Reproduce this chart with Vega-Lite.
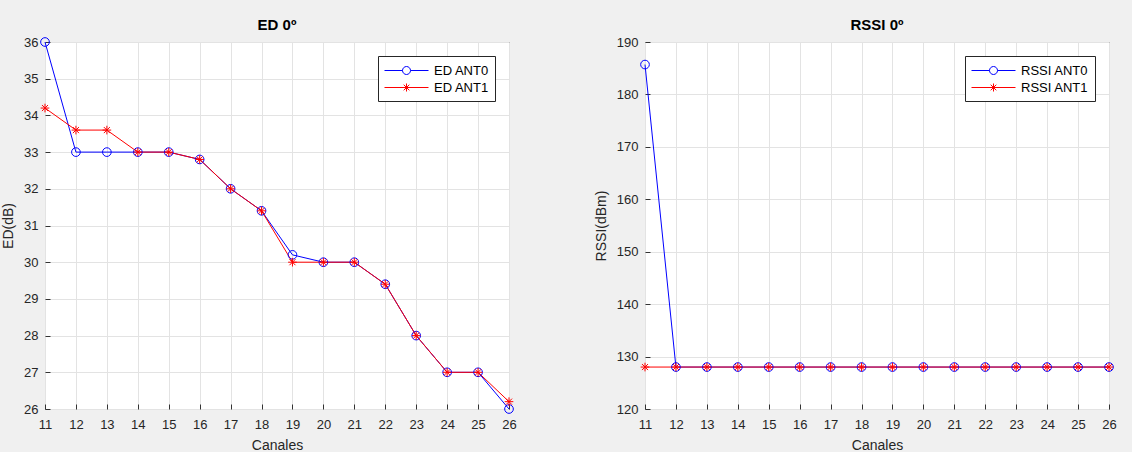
{
  "$schema": "https://vega.github.io/schema/vega-lite/v6.json",
  "background": "#f0f0f0",
  "padding": {"left": 1, "top": 17, "right": 22, "bottom": 5},
  "spacing": 76,
  "resolve": {"scale": {"color": "independent", "y": "independent", "x": "independent"}, "legend": {"color": "independent"}},
  "config": {
    "font": "Liberation Sans",
    "view": {"fill": "white", "stroke": "#333333", "strokeWidth": 1},
    "axis": {"gridColor": "#e3e3e3", "gridOpacity": 1, "domain": false, "tickColor": "#333333", "tickSize": -5, "labelFontSize": 13, "labelColor": "#262626", "titleFontSize": 14, "titleFontWeight": "normal", "titleColor": "#262626", "labelFont": "Liberation Sans", "titleFont": "Liberation Sans", "labelFlush": false},
    "axisX": {"labelPadding": 14, "titlePadding": 7},
    "axisY": {"labelPadding": 12, "titlePadding": 8},
    "title": {"fontSize": 15, "fontWeight": "bold", "color": "#000000", "offset": 3, "font": "Liberation Sans"},
    "legend": {"labelFontSize": 13, "labelColor": "#000000", "labelFont": "Liberation Sans", "strokeColor": "#262626", "fillColor": "#ffffff", "padding": 6, "rowPadding": 1, "symbolSize": 256, "symbolStrokeWidth": 1, "symbolOffset": 14, "labelOffset": 19, "orient": "top-right", "offset": 14, "title": null}
  },
  "hconcat": [
    {
      "title": "ED 0º",
      "width": 464,
      "height": 367,
      "data": {"values": [
        {"canal": 11, "serie": "ED ANT0", "valor": 36},
        {"canal": 12, "serie": "ED ANT0", "valor": 33},
        {"canal": 13, "serie": "ED ANT0", "valor": 33},
        {"canal": 14, "serie": "ED ANT0", "valor": 33},
        {"canal": 15, "serie": "ED ANT0", "valor": 33},
        {"canal": 16, "serie": "ED ANT0", "valor": 32.8},
        {"canal": 17, "serie": "ED ANT0", "valor": 32},
        {"canal": 18, "serie": "ED ANT0", "valor": 31.4},
        {"canal": 19, "serie": "ED ANT0", "valor": 30.2},
        {"canal": 20, "serie": "ED ANT0", "valor": 30},
        {"canal": 21, "serie": "ED ANT0", "valor": 30},
        {"canal": 22, "serie": "ED ANT0", "valor": 29.4},
        {"canal": 23, "serie": "ED ANT0", "valor": 28},
        {"canal": 24, "serie": "ED ANT0", "valor": 27},
        {"canal": 25, "serie": "ED ANT0", "valor": 27},
        {"canal": 26, "serie": "ED ANT0", "valor": 26},
        {"canal": 11, "serie": "ED ANT1", "valor": 34.2},
        {"canal": 12, "serie": "ED ANT1", "valor": 33.6},
        {"canal": 13, "serie": "ED ANT1", "valor": 33.6},
        {"canal": 14, "serie": "ED ANT1", "valor": 33},
        {"canal": 15, "serie": "ED ANT1", "valor": 33},
        {"canal": 16, "serie": "ED ANT1", "valor": 32.8},
        {"canal": 17, "serie": "ED ANT1", "valor": 32},
        {"canal": 18, "serie": "ED ANT1", "valor": 31.4},
        {"canal": 19, "serie": "ED ANT1", "valor": 30},
        {"canal": 20, "serie": "ED ANT1", "valor": 30},
        {"canal": 21, "serie": "ED ANT1", "valor": 30},
        {"canal": 22, "serie": "ED ANT1", "valor": 29.4},
        {"canal": 23, "serie": "ED ANT1", "valor": 28},
        {"canal": 24, "serie": "ED ANT1", "valor": 27},
        {"canal": 25, "serie": "ED ANT1", "valor": 27},
        {"canal": 26, "serie": "ED ANT1", "valor": 26.2}
      ]},
      "encoding": {
        "x": {"field": "canal", "type": "quantitative", "scale": {"domain": [11, 26], "nice": false, "zero": false}, "axis": {"title": "Canales", "values": [11,12,13,14,15,16,17,18,19,20,21,22,23,24,25,26], "format": "d"}},
        "y": {"field": "valor", "type": "quantitative", "scale": {"domain": [26, 36], "nice": false, "zero": false}, "axis": {"title": "ED(dB)", "values": [26,27,28,29,30,31,32,33,34,35,36], "format": "d"}},
        "color": {"field": "serie", "type": "nominal", "scale": {"domain": ["ED ANT0", "ED ANT1"], "range": ["#0000ff", "#ff0000"]},
          "legend": {"encode": {"symbols": {"update": {"shape": {"signal": "datum.value === 'ED ANT0' ? 'M-2.75,0H-0.5M0.5,0H2.75M0.5,0A0.5,0.5 0 1 1 -0.5,0A0.5,0.5 0 1 1 0.5,0' : 'M-2.75,0H2.75M0,-0.5V0.5M-0.35,-0.35L0.35,0.35M-0.35,0.35L0.35,-0.35'"}, "fill": {"value": "transparent"}}}}}}
      },
      "layer": [
        {"mark": {"type": "line", "strokeWidth": 1}},
        {"transform": [{"filter": "datum.serie === 'ED ANT0'"}],
          "mark": {"type": "point", "filled": false, "strokeWidth": 1, "size": 75, "opacity": 1, "shape": "circle"}},
        {"transform": [{"filter": "datum.serie === 'ED ANT1'"}],
          "mark": {"type": "point", "filled": false, "strokeWidth": 1, "size": 75, "opacity": 1, "shape": "M0,-1V1M-1,0H1M-0.7,-0.7L0.7,0.7M-0.7,0.7L0.7,-0.7"}}
      ]
    },
    {
      "title": "RSSI 0º",
      "width": 464,
      "height": 367,
      "data": {"values": [
        {"canal": 11, "serie": "RSSI ANT0", "valor": 185.7},
        {"canal": 12, "serie": "RSSI ANT0", "valor": 128},
        {"canal": 13, "serie": "RSSI ANT0", "valor": 128},
        {"canal": 14, "serie": "RSSI ANT0", "valor": 128},
        {"canal": 15, "serie": "RSSI ANT0", "valor": 128},
        {"canal": 16, "serie": "RSSI ANT0", "valor": 128},
        {"canal": 17, "serie": "RSSI ANT0", "valor": 128},
        {"canal": 18, "serie": "RSSI ANT0", "valor": 128},
        {"canal": 19, "serie": "RSSI ANT0", "valor": 128},
        {"canal": 20, "serie": "RSSI ANT0", "valor": 128},
        {"canal": 21, "serie": "RSSI ANT0", "valor": 128},
        {"canal": 22, "serie": "RSSI ANT0", "valor": 128},
        {"canal": 23, "serie": "RSSI ANT0", "valor": 128},
        {"canal": 24, "serie": "RSSI ANT0", "valor": 128},
        {"canal": 25, "serie": "RSSI ANT0", "valor": 128},
        {"canal": 26, "serie": "RSSI ANT0", "valor": 128},
        {"canal": 11, "serie": "RSSI ANT1", "valor": 128},
        {"canal": 12, "serie": "RSSI ANT1", "valor": 128},
        {"canal": 13, "serie": "RSSI ANT1", "valor": 128},
        {"canal": 14, "serie": "RSSI ANT1", "valor": 128},
        {"canal": 15, "serie": "RSSI ANT1", "valor": 128},
        {"canal": 16, "serie": "RSSI ANT1", "valor": 128},
        {"canal": 17, "serie": "RSSI ANT1", "valor": 128},
        {"canal": 18, "serie": "RSSI ANT1", "valor": 128},
        {"canal": 19, "serie": "RSSI ANT1", "valor": 128},
        {"canal": 20, "serie": "RSSI ANT1", "valor": 128},
        {"canal": 21, "serie": "RSSI ANT1", "valor": 128},
        {"canal": 22, "serie": "RSSI ANT1", "valor": 128},
        {"canal": 23, "serie": "RSSI ANT1", "valor": 128},
        {"canal": 24, "serie": "RSSI ANT1", "valor": 128},
        {"canal": 25, "serie": "RSSI ANT1", "valor": 128},
        {"canal": 26, "serie": "RSSI ANT1", "valor": 128}
      ]},
      "encoding": {
        "x": {"field": "canal", "type": "quantitative", "scale": {"domain": [11, 26], "nice": false, "zero": false}, "axis": {"title": "Canales", "values": [11,12,13,14,15,16,17,18,19,20,21,22,23,24,25,26], "format": "d"}},
        "y": {"field": "valor", "type": "quantitative", "scale": {"domain": [120, 190], "nice": false, "zero": false}, "axis": {"title": "RSSI(dBm)", "values": [120,130,140,150,160,170,180,190], "format": "d"}},
        "color": {"field": "serie", "type": "nominal", "scale": {"domain": ["RSSI ANT0", "RSSI ANT1"], "range": ["#0000ff", "#ff0000"]},
          "legend": {"encode": {"symbols": {"update": {"shape": {"signal": "datum.value === 'RSSI ANT0' ? 'M-2.75,0H-0.5M0.5,0H2.75M0.5,0A0.5,0.5 0 1 1 -0.5,0A0.5,0.5 0 1 1 0.5,0' : 'M-2.75,0H2.75M0,-0.5V0.5M-0.35,-0.35L0.35,0.35M-0.35,0.35L0.35,-0.35'"}, "fill": {"value": "transparent"}}}}}}
      },
      "layer": [
        {"mark": {"type": "line", "strokeWidth": 1}},
        {"transform": [{"filter": "datum.serie === 'RSSI ANT0'"}],
          "mark": {"type": "point", "filled": false, "strokeWidth": 1, "size": 75, "opacity": 1, "shape": "circle"}},
        {"transform": [{"filter": "datum.serie === 'RSSI ANT1'"}],
          "mark": {"type": "point", "filled": false, "strokeWidth": 1, "size": 75, "opacity": 1, "shape": "M0,-1V1M-1,0H1M-0.7,-0.7L0.7,0.7M-0.7,0.7L0.7,-0.7"}}
      ]
    }
  ]
}
